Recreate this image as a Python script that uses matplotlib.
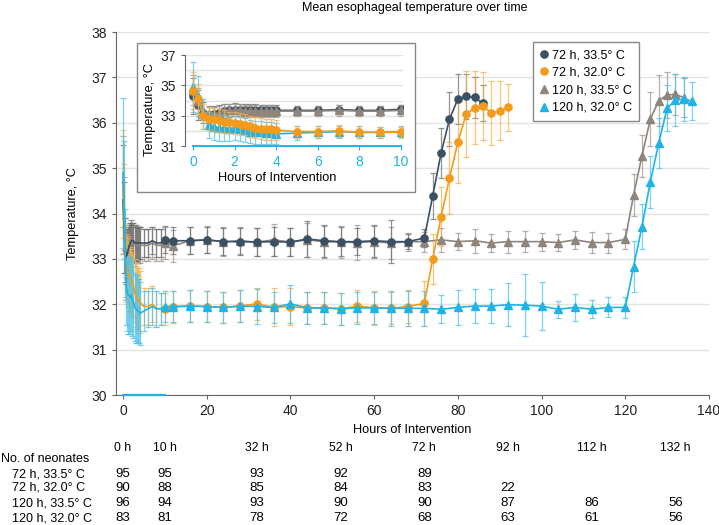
import matplotlib
matplotlib.use("Agg")
import matplotlib.pyplot as plt
from matplotlib.lines import Line2D
from matplotlib.patches import Rectangle
from matplotlib.transforms import blended_transform_factory

plt.rcParams["font.family"] = ["Liberation Sans", "DejaVu Sans"]
plt.rcParams["font.size"] = 9

DARK, ORANGE, TAUPE, CYAN = "#3a5163", "#f49b1c", "#8f857c", "#1fb3e6"
GRID, AXC = "#e3e3e3", "#666666"

# ---- time points (hours) ----
t_early = [0, 0.25, 0.5, 0.75, 1, 1.25, 1.5, 1.75, 2, 2.25, 2.5, 2.75, 3,
           3.25, 3.5, 3.75, 4, 5, 6, 7, 8, 9, 10]
t_maint72 = [12, 16, 20, 24, 28, 32, 36, 40, 44, 48, 52, 56, 60, 64, 68, 72]
t_maint120 = [76, 80, 84, 88, 92, 96, 100, 104, 108, 112, 116, 120]
t_rw_72_335 = [74, 76, 78, 80, 82, 84, 86]
t_rw_72_320 = [74, 76, 78, 80, 82, 84, 86, 88, 90, 92]
t_rw_120_335 = [122, 124, 126, 128, 130, 132, 134]
t_rw_120_320 = [122, 124, 126, 128, 130, 132, 134, 136]

# ---- 72 h, 33.5 C ----
m_72_335 = [34.3, 33.7, 33.2, 33.05, 33.1, 33.2, 33.3, 33.35, 33.4, 33.4, 33.4, 33.35,
            33.35, 33.35, 33.35, 33.35, 33.35, 33.35, 33.35, 33.4, 33.35, 33.35, 33.42,
            33.40, 33.40, 33.42, 33.38, 33.38, 33.37, 33.38, 33.37, 33.44, 33.40, 33.38,
            33.38, 33.40, 33.38, 33.38, 33.46,
            34.39, 35.33, 36.08, 36.52, 36.58, 36.56, 36.43]
sd_72_335 = [1.2, 1.0, 0.7, 0.6, 0.55, 0.5, 0.45, 0.45, 0.45, 0.4, 0.4, 0.4,
             0.4, 0.35, 0.35, 0.35, 0.35, 0.3, 0.3, 0.3, 0.3, 0.3, 0.3,
             0.3, 0.3, 0.28, 0.3, 0.3, 0.3, 0.32, 0.3, 0.4, 0.35, 0.32,
             0.3, 0.35, 0.48, 0.16, 0.2,
             0.5, 0.55, 0.6, 0.55, 0.5, 0.45, 0.4]

# ---- 72 h, 32.0 C ----
m_72_320 = [34.65, 34.1, 32.95, 32.8, 32.75, 32.7, 32.6, 32.55, 32.5, 32.45, 32.4, 32.3,
            32.2, 32.15, 32.1, 32.1, 32.05, 31.95, 31.95, 32.0, 31.9, 31.9, 31.9,
            31.94, 31.96, 31.95, 31.93, 31.96, 32.01, 31.93, 31.95, 31.92, 31.92, 31.90,
            31.96, 31.92, 31.91, 31.95, 32.02,
            33.0, 33.93, 34.78, 35.57, 36.19, 36.33, 36.36, 36.22, 36.26, 36.34]
sd_72_320 = [1.2, 1.0, 0.8, 0.75, 0.75, 0.75, 0.75, 0.72, 0.72, 0.7, 0.7, 0.7,
             0.7, 0.7, 0.7, 0.7, 0.68, 0.4, 0.4, 0.4, 0.4, 0.35, 0.35,
             0.35, 0.35, 0.35, 0.35, 0.36, 0.35, 0.42, 0.4, 0.35, 0.35, 0.35,
             0.35, 0.38, 0.35, 0.36, 0.5,
             0.55, 0.65, 0.8, 0.9, 0.95, 0.8, 0.75, 0.7, 0.65, 0.52]

# ---- 120 h, 33.5 C ----
m_120_335 = [34.7, 34.0, 33.3, 33.1, 33.1, 33.2, 33.3, 33.35, 33.35, 33.35, 33.3, 33.3,
             33.3, 33.3, 33.3, 33.3, 33.3, 33.3, 33.3, 33.35, 33.3, 33.3, 33.35,
             33.29, 33.40, 33.42, 33.38, 33.40, 33.37, 33.42, 33.37, 33.42, 33.38, 33.37,
             33.36, 33.38, 33.35, 33.38, 33.38,
             33.42, 33.38, 33.40, 33.35, 33.38, 33.38, 33.38, 33.36, 33.42, 33.36, 33.36, 33.43,
             34.41, 35.27, 36.08, 36.49, 36.61, 36.63, 36.55]
sd_120_335 = [1.0, 0.8, 0.6, 0.5, 0.45, 0.45, 0.45, 0.45, 0.4, 0.4, 0.4, 0.4,
              0.4, 0.4, 0.4, 0.4, 0.4, 0.35, 0.35, 0.35, 0.35, 0.35, 0.35,
              0.35, 0.3, 0.3, 0.32, 0.3, 0.3, 0.35, 0.3, 0.38, 0.35, 0.35,
              0.38, 0.35, 0.35, 0.2, 0.22,
              0.27, 0.18, 0.26, 0.2, 0.24, 0.23, 0.2, 0.18, 0.2, 0.24, 0.22, 0.22,
              0.47, 0.47, 0.6, 0.57, 0.5, 0.45, 0.43]

# ---- 120 h, 32.0 C ----
m_120_320 = [34.9, 34.3, 33.1, 32.4, 32.25, 32.2, 32.2, 32.15, 32.2, 32.1, 32.05, 31.95,
             31.9, 31.9, 31.85, 31.85, 31.8, 31.85, 31.9, 31.95, 31.9, 31.9, 31.95,
             31.95, 31.96, 31.95, 31.93, 31.96, 31.95, 31.93, 32.01, 31.92, 31.92, 31.90,
             31.92, 31.92, 31.91, 31.91, 31.91,
             31.89, 31.93, 31.96, 31.96, 31.99, 31.98, 31.96, 31.89, 31.93, 31.89, 31.93, 31.93,
             32.83, 33.71, 34.70, 35.55, 36.32, 36.50, 36.52, 36.48]
sd_120_320 = [1.65, 1.3, 1.0, 0.85, 0.85, 0.85, 0.85, 0.8, 0.8, 0.8, 0.8, 0.75,
              0.75, 0.75, 0.7, 0.7, 0.7, 0.45, 0.4, 0.4, 0.4, 0.35, 0.35,
              0.35, 0.35, 0.35, 0.35, 0.35, 0.38, 0.35, 0.42, 0.35, 0.35, 0.35,
              0.35, 0.35, 0.38, 0.38, 0.38,
              0.31, 0.39, 0.38, 0.38, 0.47, 0.68, 0.53, 0.19, 0.29, 0.2, 0.22, 0.23,
              0.57, 0.5, 0.57, 0.55, 0.51, 0.57, 0.49, 0.42]

labels = ["72 h, 33.5° C", "72 h, 32.0° C", "120 h, 33.5° C", "120 h, 32.0° C"]

# number at risk table
tab_hours = [0, 10, 32, 52, 72, 92, 112, 132]
n_72_335 = [95, 95, 93, 92, 89]
n_72_320 = [90, 88, 85, 84, 83, 22]
n_120_335 = [96, 94, 93, 90, 90, 87, 86, 56]
n_120_320 = [83, 81, 78, 72, 68, 63, 61, 56]
inset_span = [0, 10]

series = [
    # (times, means, sds, color, err color, marker, ms, label)
    (t_early + t_maint72 + t_maint120 + t_rw_120_335, m_120_335, sd_120_335,
     TAUPE, "#a0968e", "^", 5.5, labels[2]),
    (t_early + t_maint72 + t_rw_72_335, m_72_335, sd_72_335,
     DARK, "#707070", "o", 5.2, labels[0]),
    (t_early + t_maint72 + t_rw_72_320, m_72_320, sd_72_320,
     ORANGE, "#f6b14e", "o", 5.2, labels[1]),
    (t_early + t_maint72 + t_maint120 + t_rw_120_320, m_120_320, sd_120_320,
     CYAN, "#4fc3ea", "^", 5.5, labels[3]),
]

fig = plt.figure(figsize=(7.19, 5.25), dpi=100)
ax = fig.add_axes([0.1612, 0.2476, 0.8248, 0.6914])

for t, m, sd, c, ec, mk, ms, lab in series:
    ax.errorbar(t, m, yerr=sd, fmt="none", ecolor=ec, elinewidth=0.9,
                capsize=2.5, capthick=0.9, alpha=0.75, zorder=2)
    ax.plot(t, m, color=c, lw=1.2, marker=mk, ms=ms, mec=c, mfc=c,
            markevery=[x >= 10 for x in t], zorder=3)

ax.set_xlim(-1.7, 140)
ax.set_ylim(30, 38)
ax.set_xticks([0, 20, 40, 60, 80, 100, 120, 140])
ax.set_yticks(range(30, 39))
ax.grid(axis="y", color=GRID, lw=1)
ax.set_axisbelow(True)
for s in ("top", "right"):
    ax.spines[s].set_visible(False)
for s in ("left", "bottom"):
    ax.spines[s].set_color(AXC)
ax.tick_params(colors=AXC, labelcolor="#222222", length=3, labelsize=10)
ax.plot(inset_span, [30, 30], color=CYAN, lw=1.6, clip_on=False, zorder=4)
ax.set_xlabel("Hours of Intervention", fontsize=9.2)
ax.xaxis.set_label_coords(0.5, -0.08)
ax.set_ylabel("Temperature, °C", fontsize=9.2)
ax.yaxis.set_label_coords(-0.062, 0.5)

leg_h = [Line2D([], [], ls="none", marker=mk, color=c, ms=ms)
         for _, _, _, c, _, mk, ms, _ in [series[1], series[2], series[0], series[3]]]
ax.legend(leg_h, labels, loc="upper left", bbox_to_anchor=(0.703, 0.972),
          borderaxespad=0, frameon=True, fancybox=False, edgecolor="#888888",
          fontsize=9, handlelength=0.7, handletextpad=0.3, borderpad=0.55,
          labelspacing=0.45, framealpha=1)

fig.text(0.577, 0.985, "Mean esophageal temperature over time",
         ha="center", va="center", fontsize=9)

# inset
fig.patches.append(Rectangle((0.1905, 0.6343), 0.3867, 0.2838, transform=fig.transFigure,
                             facecolor="white", edgecolor="#888888", lw=1, zorder=5))
axi = fig.add_axes([0.2569, 0.7219, 0.3038, 0.1733], zorder=6)
axi.patch.set_alpha(0)
inset_order = [series[1], series[0], series[3], series[2]]
for t, m, sd, c, ec, mk, ms, lab in inset_order:
    ti = [x for x in t if x <= 10]
    n = len(ti)
    axi.errorbar(ti, m[:n], yerr=sd[:n], fmt="none", ecolor=ec, elinewidth=0.9,
                 capsize=2.5, capthick=0.9, alpha=0.75)
    axi.plot(ti, m[:n], color=c, lw=1.2, marker=mk, ms=ms, mec=c, mfc=c)
axi.set_xlim(-0.4, 10.1)
axi.set_ylim(31, 37)
axi.set_yticks([31, 33, 35, 37])
axi.set_yticks(range(31, 38), minor=True)
axi.set_xticks([0, 2, 4, 6, 8, 10])
axi.grid(axis="y", which="both", color=GRID, lw=1)
axi.set_axisbelow(True)
for s in ("top", "right"):
    axi.spines[s].set_visible(False)
axi.spines["left"].set_color(AXC)
axi.spines["bottom"].set_color(CYAN)
axi.spines["bottom"].set_linewidth(1.4)
axi.spines["bottom"].set_bounds(0, 10)
axi.tick_params(axis="y", which="both", colors=AXC, labelcolor="#222222", length=3,
                labelsize=10)
axi.tick_params(axis="y", which="minor", length=0)
axi.tick_params(axis="x", colors=CYAN, labelcolor=CYAN, length=3, labelsize=10)
fig.text(0.2086, 0.7905, "Temperature, °C", rotation=90, ha="center", va="center",
         fontsize=9.2, zorder=7)
fig.text(0.385, 0.661, "Hours of Intervention", ha="center", va="center",
         fontsize=9.2, zorder=7)

# numbers at risk
tr = blended_transform_factory(ax.transData, fig.transFigure)
for h in tab_hours:
    ax.text(h, 0.1467, f"{h} h", transform=tr, ha="center", va="center", fontsize=8.8)
fig.text(0.001, 0.1257, "No. of neonates", ha="left", va="center", fontsize=9)
rows = [n_72_335, n_72_320, n_120_335, n_120_320]
row_y = [0.097, 0.0705, 0.0419, 0.0133]
for lab, vals, y in zip(labels, rows, row_y):
    fig.text(0.0167, y, lab, ha="left", va="center", fontsize=9)
    for h, v in zip(tab_hours, vals):
        ax.text(h, y, str(v), transform=tr, ha="center", va="center", fontsize=9.5)

fig.savefig("out.png", dpi=100)
